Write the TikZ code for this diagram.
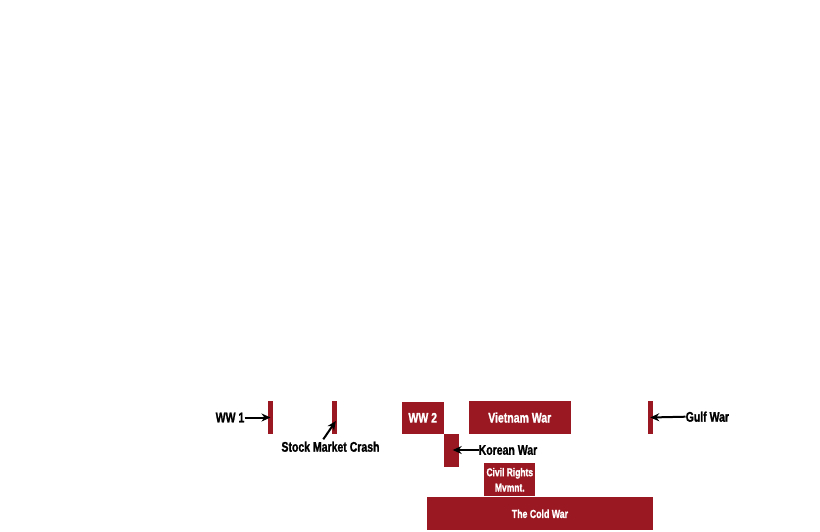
\documentclass[tikz,border=0pt]{standalone}
\usepackage{fontspec}
\setmainfont{Liberation Sans}[FakeStretch=0.75, BoldFeatures={FakeBold=1.2}]
\usepackage{tikz}
\usetikzlibrary{arrows.meta}
\usetikzlibrary{positioning}
\definecolor{era-red}{HTML}{9A1822}

\begin{document}
\begin{tikzpicture}[x=1pt, y=-1pt, line cap=round, line join=round,
    bar/.style={fill=era-red, draw=none, anchor=north west, inner sep=0pt, outer sep=0pt,
      text=white, font=\bfseries\fontsize{14}{15}\selectfont, align=center},
    tag/.style={inner sep=0pt, text=black, font=\bfseries\fontsize{14}{15}\selectfont},
    pointer/.style={-{Stealth[length=9pt, width=8pt]}, line width=2pt, line cap=butt}]
    % frame
    \useasboundingbox (0,0) rectangle (820,531);

    % short events
    \node[bar, minimum width=5pt, minimum height=33pt] (ww1) at (268,401) {};
    \node[bar, minimum width=5pt, minimum height=33pt] (crash) at (332,401) {};
    \node[bar, minimum width=4.5pt, minimum height=33pt] (gulf) at (648,401) {};

    % wars
    \node[bar, minimum width=42.5pt, minimum height=32.5pt] (ww2) at (401.5,401.5) {WW 2};
    \node[bar, minimum width=102.5pt, minimum height=33pt] (vietnam) at (468.5,401) {Vietnam War};
    \node[bar, minimum width=14.5pt, minimum height=33pt] (korea) at (444.2,434) {};

    % civil rights and cold war
    \node[bar, minimum width=51pt, minimum height=33pt, font=\bfseries\fontsize{11.3}{15.3}\selectfont] (civil) at (484.3,463.3) {Civil Rights\\Mvmnt.};
    \node[bar, minimum width=225.5pt, minimum height=33pt, font=\bfseries\fontsize{11.7}{13}\selectfont] (cold) at (427.2,497.3) {The Cold War};

    % labels
    \node[tag, anchor=east] (ww1lbl) at (244.5,417.5) {WW 1};
    \node[tag] (crashlbl) at (330.5,446.7) {Stock Market Crash};
    \node[tag, anchor=west] (korealbl) at (478.5,450) {Korean War};
    \node[tag, anchor=west] (gulflbl) at (685.5,416.7) {Gulf War};

    % pointers
    \coordinate (crashfoot) at (323.3,439.3);
    \coordinate (crashtip) at (335.8,421);
    \coordinate (koreatip) at (452.7,450);
    \draw[pointer] (ww1lbl.east) -- (ww1.center);
    \draw[pointer] (crashfoot) -- (crashtip);
    \draw[pointer] (korealbl.west) -- (koreatip);
    \draw[pointer] (gulflbl.west) -- (gulf.center);

\end{tikzpicture}
\end{document}
